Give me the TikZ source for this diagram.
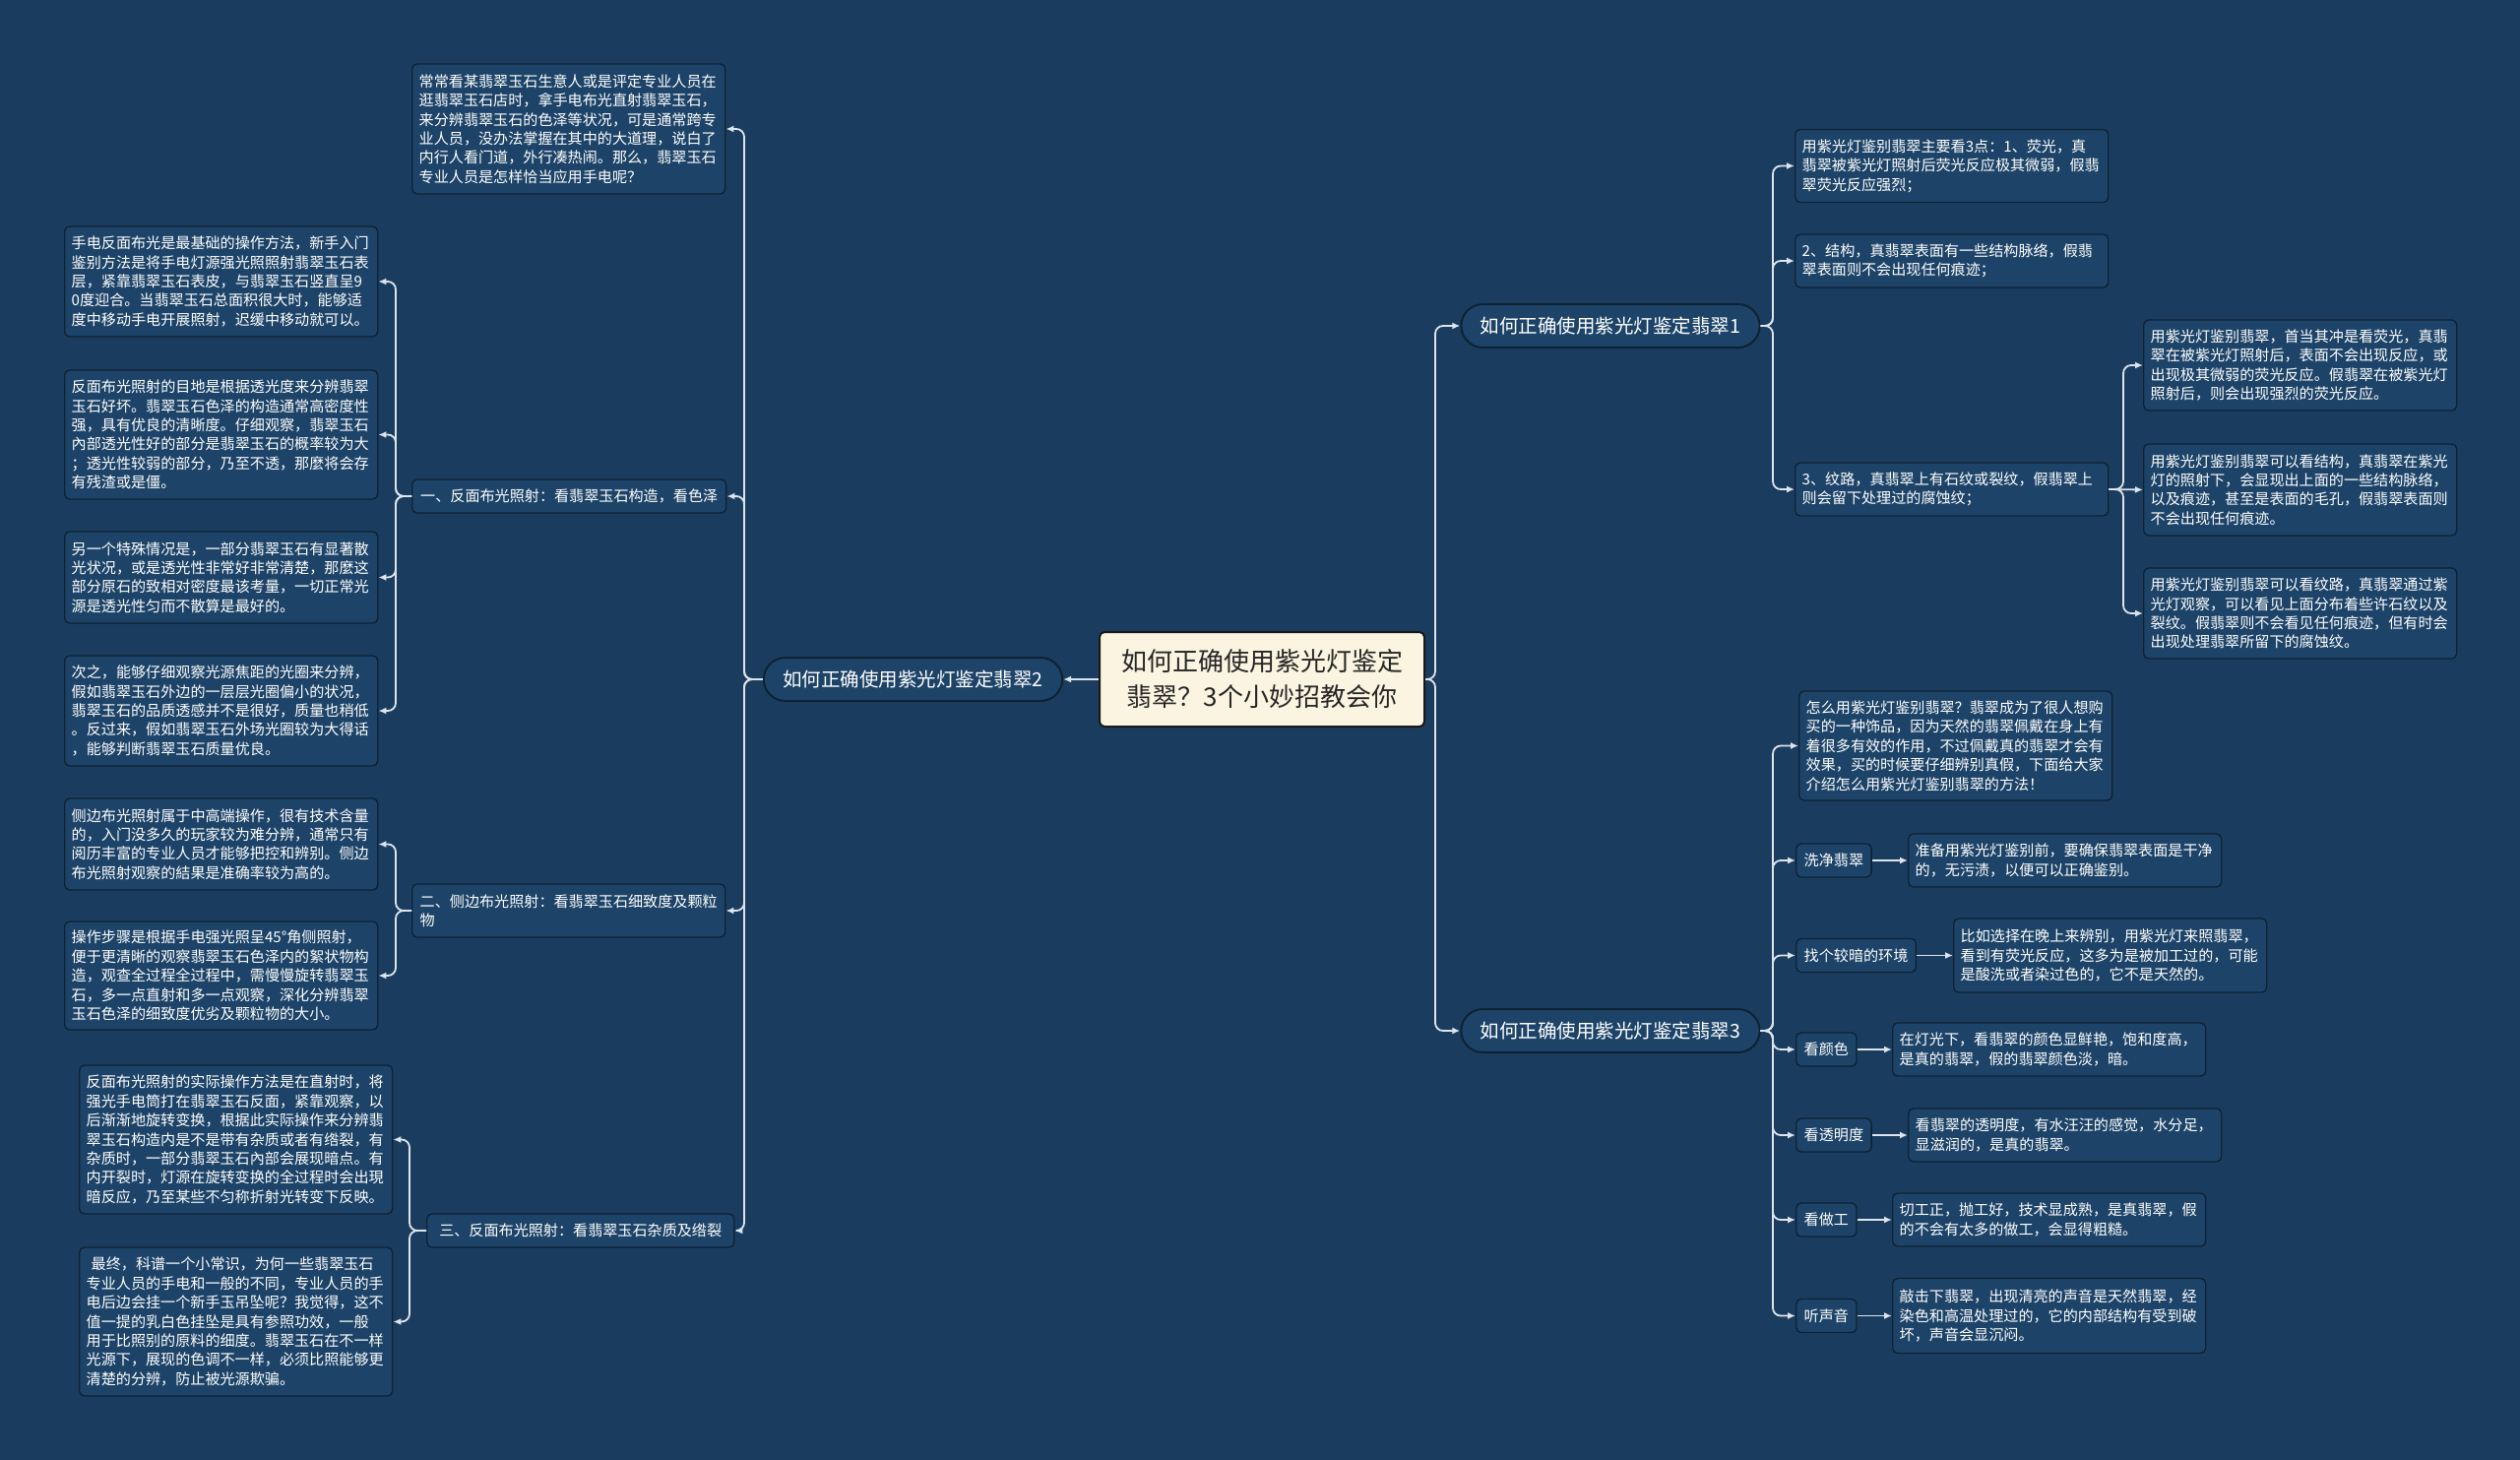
\documentclass[tikz,border=0pt]{standalone}
\usepackage{fontspec}
\setmainfont{Noto Sans CJK SC}
\usetikzlibrary{arrows.meta,shapes.misc}
\definecolor{bgc}{HTML}{1A3D5F}
\definecolor{boxc}{HTML}{1D4468}
\definecolor{edgec}{HTML}{0E2235}
\definecolor{linec}{HTML}{DDE4EC}
\definecolor{creamc}{HTML}{FBF4E0}
\begin{document}
\begin{tikzpicture}[x=1pt,y=-1pt,
  tbox/.style={draw=edgec, line width=1.4pt, fill=boxc, rounded corners=5pt, text=white,
    font=\fontsize{15.1}{19.4}\selectfont, text width=304pt, align=left, inner xsep=7pt, inner ysep=4pt,
    minimum width=318pt, anchor=west},
  lbl/.style={draw=edgec, line width=1.4pt, fill=boxc, rounded corners=5pt, text=white,
    font=\fontsize{15.1}{19.4}\selectfont, align=left, inner xsep=8pt, inner ysep=4pt,
    minimum height=34pt, anchor=west},
  pill/.style={draw=edgec, line width=2pt, fill=boxc, rounded rectangle, text=white,
    font=\fontsize{19.5}{24}\selectfont, minimum width=310pt, minimum height=44pt},
  mainbox/.style={draw=black!90, line width=2pt, fill=creamc, rounded corners=5pt, text=black!85,
    font=\fontsize{26}{36}\selectfont, align=center, minimum width=330pt, minimum height=96pt},
  conn/.style={draw=linec, line width=1.8pt, rounded corners=8pt, -{Latex[length=8pt,width=7pt]}}
]
\fill[bgc] (0,0) rectangle (2560,1483);
\useasboundingbox (0,0) rectangle (2560,1483);

% trunk coordinates
\coordinate (tL) at (756,0);
\coordinate (tL1) at (402,0);
\coordinate (tL3) at (416,0);
\coordinate (tR) at (1458,0);
\coordinate (tR1) at (1801,0);
\coordinate (tS) at (2157,0);

% centre and level 1
\node[mainbox] (c) at (1282,690) {如何正确使用紫光灯鉴定\\翡翠？3个小妙招教会你};
\node[pill] (n1) at (1636,331) {如何正确使用紫光灯鉴定翡翠1};
\node[pill] (n2) at (927.5,690) {如何正确使用紫光灯鉴定翡翠2};
\node[pill] (n3) at (1636,1047) {如何正确使用紫光灯鉴定翡翠3};

% left branch
\node[tbox, minimum height=132pt] (tl) at (418,131) {常常看某翡翠玉石生意人或是评定专业人员在\\逛翡翠玉石店时，拿手电布光直射翡翠玉石，\\来分辨翡翠玉石的色泽等状况，可是通常跨专\\业人员，没办法掌握在其中的大道理，说白了\\内行人看门道，外行凑热闹。那么，翡翠玉石\\专业人员是怎样恰当应用手电呢？};
\node[lbl, minimum width=319pt] (l1) at (418,504) {一、反面布光照射：看翡翠玉石构造，看色泽};
\node[lbl, minimum width=318pt, minimum height=54pt] (l2) at (418,925) {二、侧边布光照射：看翡翠玉石细致度及颗粒\\物};
\node[lbl, minimum width=312pt] (l3) at (433,1250) {三、反面布光照射：看翡翠玉石杂质及绺裂};

\node[tbox, minimum height=112pt] (a) at (65,286) {手电反面布光是最基础的操作方法，新手入门\\鉴别方法是将手电灯源强光照照射翡翠玉石表\\层，紧靠翡翠玉石表皮，与翡翠玉石竖直呈9\\0度迎合。当翡翠玉石总面积很大时，能够适\\度中移动手电开展照射，迟缓中移动就可以。};
\node[tbox, minimum height=131pt] (b) at (65,441.5) {反面布光照射的目地是根据透光度来分辨翡翠\\玉石好坏。翡翠玉石色泽的构造通常高密度性\\强，具有优良的清晰度。仔细观察，翡翠玉石\\內部透光性好的部分是翡翠玉石的概率较为大\\；透光性较弱的部分，乃至不透，那麼将会存\\有残渣或是僵。};
\node[tbox, minimum height=93pt] (cc) at (65,586.5) {另一个特殊情况是，一部分翡翠玉石有显著散\\光状况，或是透光性非常好非常清楚，那麼这\\部分原石的致相对密度最该考量，一切正常光\\源是透光性匀而不散算是最好的。};
\node[tbox, minimum height=112pt] (d) at (65,722) {次之，能够仔细观察光源焦距的光圈来分辨，\\假如翡翠玉石外边的一层层光圈偏小的状况，\\翡翠玉石的品质透感并不是很好，质量也稍低\\。反过来，假如翡翠玉石外场光圈较为大得话\\，能够判断翡翠玉石质量优良。};
\node[tbox, minimum height=93pt] (e) at (65,857.5) {侧边布光照射属于中高端操作，很有技术含量\\的，入门没多久的玩家较为难分辨，通常只有\\阅历丰富的专业人员才能够把控和辨别。侧边\\布光照射观察的結果是准确率较为高的。};
\node[tbox, minimum height=110pt] (f) at (65,991) {操作步骤是根据手电强光照呈45°角侧照射，\\便于更清晰的观察翡翠玉石色泽内的絮状物构\\造，观查全过程全过程中，需慢慢旋转翡翠玉\\石，多一点直射和多一点观察，深化分辨翡翠\\玉石色泽的细致度优劣及颗粒物的大小。};
\node[tbox, minimum height=151pt] (g) at (80,1157.5) {反面布光照射的实际操作方法是在直射时，将\\强光手电筒打在翡翠玉石反面，紧靠观察，以\\后渐渐地旋转变换，根据此实际操作来分辨翡\\翠玉石构造内是不是带有杂质或者有绺裂，有\\杂质时，一部分翡翠玉石內部会展现暗点。有\\内开裂时，灯源在旋转变换的全过程时会出現\\暗反应，乃至某些不匀称折射光转变下反映。};
\node[tbox, minimum height=151pt] (h) at (80,1342.5) {\hspace*{5pt}最终，科谱一个小常识，为何一些翡翠玉石\\专业人员的手电和一般的不同，专业人员的手\\电后边会挂一个新手玉吊坠呢？我觉得，这不\\值一提的乳白色挂坠是具有参照功效，一般\\用于比照别的原料的细度。翡翠玉石在不一样\\光源下，展现的色调不一样，必须比照能够更\\清楚的分辨，防止被光源欺骗。};

% right branch 1
\node[tbox, minimum height=74pt] (r1) at (1823,168.5) {用紫光灯鉴别翡翠主要看3点：1、荧光，真\\翡翠被紫光灯照射后荧光反应极其微弱，假翡\\翠荧光反应强烈；};
\node[tbox, minimum height=54pt] (r2) at (1823,265) {2、结构，真翡翠表面有一些结构脉络，假翡\\翠表面则不会出现任何痕迹；};
\node[tbox, minimum height=54pt] (r3) at (1823,497) {3、纹路，真翡翠上有石纹或裂纹，假翡翠上\\则会留下处理过的腐蚀纹；};
\node[tbox, minimum height=92pt] (s1) at (2177,371) {用紫光灯鉴别翡翠，首当其冲是看荧光，真翡\\翠在被紫光灯照射后，表面不会出现反应，或\\出现极其微弱的荧光反应。假翡翠在被紫光灯\\照射后，则会出现强烈的荧光反应。};
\node[tbox, minimum height=93pt] (s2) at (2177,497.5) {用紫光灯鉴别翡翠可以看结构，真翡翠在紫光\\灯的照射下，会显现出上面的一些结构脉络，\\以及痕迹，甚至是表面的毛孔，假翡翠表面则\\不会出现任何痕迹。};
\node[tbox, minimum height=92pt] (s3) at (2177,623) {用紫光灯鉴别翡翠可以看纹路，真翡翠通过紫\\光灯观察，可以看见上面分布着些许石纹以及\\裂纹。假翡翠则不会看见任何痕迹，但有时会\\出现处理翡翠所留下的腐蚀纹。};

% right branch 3
\node[tbox, minimum height=111pt] (t0) at (1827,757.5) {怎么用紫光灯鉴别翡翠？翡翠成为了很人想购\\买的一种饰品，因为天然的翡翠佩戴在身上有\\着很多有效的作用，不过佩戴真的翡翠才会有\\效果，买的时候要仔细辨别真假，下面给大家\\介绍怎么用紫光灯鉴别翡翠的方法！};
\node[lbl] (k1) at (1824,874) {洗净翡翠};
\node[lbl] (k2) at (1824,970.5) {找个较暗的环境};
\node[lbl] (k3) at (1824,1066) {看颜色};
\node[lbl] (k4) at (1824,1153) {看透明度};
\node[lbl] (k5) at (1824,1239) {看做工};
\node[lbl] (k6) at (1824,1336.5) {听声音};
\node[tbox, minimum height=54pt] (u1) at (1938,874) {准备用紫光灯鉴别前，要确保翡翠表面是干净\\的，无污渍，以便可以正确鉴别。};
\node[tbox, minimum height=75pt] (u2) at (1984,970.5) {比如选择在晚上来辨别，用紫光灯来照翡翠，\\看到有荧光反应，这多为是被加工过的，可能\\是酸洗或者染过色的，它不是天然的。};
\node[tbox, minimum height=54pt] (u3) at (1922,1066) {在灯光下，看翡翠的颜色显鲜艳，饱和度高，\\是真的翡翠，假的翡翠颜色淡，暗。};
\node[tbox, minimum height=54pt] (u4) at (1938,1153) {看翡翠的透明度，有水汪汪的感觉，水分足，\\显滋润的，是真的翡翠。};
\node[tbox, minimum height=54pt] (u5) at (1922,1239) {切工正，抛工好，技术显成熟，是真翡翠，假\\的不会有太多的做工，会显得粗糙。};
\node[tbox, minimum height=76pt] (u6) at (1922,1336.5) {敲击下翡翠，出现清亮的声音是天然翡翠，经\\染色和高温处理过的，它的内部结构有受到破\\坏，声音会显沉闷。};

% connectors: centre
\draw[conn] (c.west) -- (n2.east);
\foreach \t in {n1,n3} \draw[conn] (c.east) -- (c.east -| tR) |- (\t.west);
% node 2 children
\foreach \t in {tl,l1,l2,l3} \draw[conn] (n2.west) -- (n2.west -| tL) |- (\t.east);
\foreach \t in {a,b,cc,d} \draw[conn] (l1.west) -- (l1.west -| tL1) |- (\t.east);
\foreach \t in {e,f} \draw[conn] (l2.west) -- (l2.west -| tL1) |- (\t.east);
\foreach \t in {g,h} \draw[conn] (l3.west) -- (l3.west -| tL3) |- (\t.east);
% node 1 children
\foreach \t in {r1,r2,r3} \draw[conn] (n1.east) -- (n1.east -| tR1) |- (\t.west);
\foreach \t in {s1,s3} \draw[conn] (r3.east) -- (r3.east -| tS) |- (\t.west);
\draw[conn] (r3.east) -- (s2.west);
% node 3 children
\foreach \t in {t0,k1,k2,k3,k4,k5,k6} \draw[conn] (n3.east) -- (n3.east -| tR1) |- (\t.west);
\draw[conn] (k1.east) -- (u1.west);
\draw[conn] (k2.east) -- (u2.west);
\draw[conn] (k3.east) -- (u3.west);
\draw[conn] (k4.east) -- (u4.west);
\draw[conn] (k5.east) -- (u5.west);
\draw[conn] (k6.east) -- (u6.west);
\end{tikzpicture}
\end{document}
